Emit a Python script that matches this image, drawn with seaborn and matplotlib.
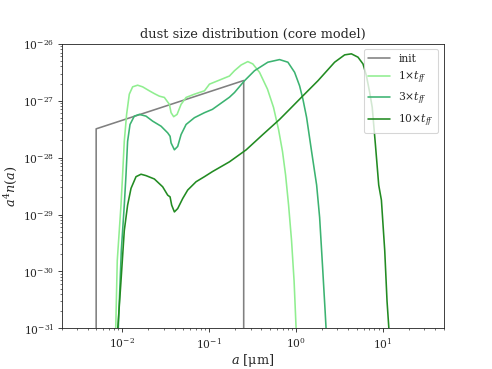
import pandas as pd
import seaborn as sns
import matplotlib
matplotlib.use("Agg")
import matplotlib.pyplot as plt

# grain radius [um] and a^4 n(a)
init_a = [0.005, 0.005, 0.25, 0.25]
init_y = [1e-35, 3.2e-28, 2.26e-27, 1e-35]

t1_a = [0.0083, 0.0084, 0.00875, 0.00966, 0.01008, 0.01054, 0.01121, 0.01204, 0.01315, 0.01501,
        0.01714, 0.02048, 0.02339, 0.02672, 0.0305, 0.03484, 0.03645, 0.03906, 0.04274, 0.04754,
        0.05429, 0.06767, 0.0883, 0.1008, 0.1714, 0.1958, 0.2338, 0.2787, 0.3184, 0.3802,
        0.470, 0.551, 0.630, 0.700, 0.759, 0.822, 0.889, 0.951, 1.003, 1.03]
t1_y = [5e-32, 1e-31, 1.55e-30, 1.46e-29, 4.95e-29, 1.93e-28, 5.74e-28, 1.30e-27, 1.75e-27, 1.87e-27,
        1.75e-27, 1.49e-27, 1.33e-27, 1.20e-27, 1.14e-27, 8.63e-28, 6.15e-28, 5.23e-28, 5.74e-28, 8.63e-28,
        1.14e-27, 1.30e-27, 1.49e-27, 1.95e-27, 2.71e-27, 3.36e-27, 4.24e-27, 4.86e-27, 4.42e-27, 3.15e-27,
        1.59e-27, 7.64e-28, 3.11e-28, 1.27e-28, 4.95e-29, 1.46e-29, 3.49e-30, 6.8e-31, 1e-31, 5e-32]

t3_a = [0.0088, 0.00899, 0.00974, 0.01054, 0.01103, 0.01151, 0.01227, 0.01375, 0.01571, 0.01876,
        0.02236, 0.02795, 0.03331, 0.0355, 0.03645, 0.03979, 0.04343, 0.04754, 0.05429, 0.06767,
        0.0883, 0.1091, 0.1714, 0.1958, 0.2553, 0.3331, 0.4742, 0.647, 0.807, 0.964,
        1.101, 1.202, 1.325, 1.514, 1.729, 1.872, 2.027, 2.166, 2.22, 2.25]
t3_y = [5e-32, 1e-31, 2.33e-30, 1.46e-29, 4.95e-29, 1.93e-28, 3.82e-28, 5.35e-28, 5.74e-28, 5.35e-28,
        4.37e-28, 3.56e-28, 2.72e-28, 2.37e-28, 1.81e-28, 1.37e-28, 1.57e-28, 2.54e-28, 3.82e-28, 5.02e-28,
        6.15e-28, 7.04e-28, 1.15e-27, 1.39e-27, 2.24e-27, 3.36e-27, 4.74e-27, 5.27e-27, 4.74e-27, 3.15e-27,
        1.82e-27, 1.06e-27, 5.08e-28, 1.27e-28, 3.29e-29, 8.9e-30, 1.16e-30, 2.0e-31, 1e-31, 5e-32]

t10_a = [0.0088, 0.00887, 0.00966, 0.01054, 0.01151, 0.0126, 0.01439, 0.01643, 0.01876, 0.02339,
         0.02916, 0.03331, 0.0355, 0.03704, 0.03979, 0.04343, 0.04962, 0.05664, 0.0708, 0.0883,
         0.1091, 0.1714, 0.2672, 0.415, 0.647, 0.844, 1.152, 1.791, 2.786, 3.636,
         4.345, 5.176, 5.912, 6.474, 7.06, 7.55, 8.216, 8.97, 9.63, 10.52,
         11.18, 11.8]
t10_y = [5e-32, 1e-31, 6.8e-31, 5.2e-30, 1.46e-29, 2.88e-29, 4.62e-29, 5.10e-29, 4.82e-29, 4.21e-29,
         3.07e-29, 2.19e-29, 2.04e-29, 1.46e-29, 1.11e-29, 1.27e-29, 1.91e-29, 2.69e-29, 3.77e-29, 4.62e-29,
         5.67e-29, 8.43e-29, 1.37e-28, 2.54e-28, 4.68e-28, 7.04e-28, 1.14e-27, 2.24e-27, 4.74e-27, 6.38e-27,
         6.65e-27, 5.81e-27, 4.42e-27, 2.74e-27, 1.39e-27, 7.64e-28, 1.69e-28, 3.29e-29, 1.79e-29, 2.32e-30,
         3.01e-31, 8.9e-32]

labels = ["init", r"$1{\times}t_{ff}$", r"$3{\times}t_{ff}$", r"$10{\times}t_{ff}$"]
colors = ["gray", "lightgreen", "mediumseagreen", "forestgreen"]

sns.set_style("ticks")
plt.rcParams['font.family'] = ['DejaVu Serif']
plt.rcParams['mathtext.fontset'] = 'dejavuserif'
plt.rcParams.update({'xtick.major.size': 3.5, 'ytick.major.size': 3.5,
                     'xtick.minor.size': 2, 'ytick.minor.size': 2,
                     'xtick.minor.visible': True, 'ytick.minor.visible': True})

fig, ax = plt.subplots(figsize=(6.4, 4.8), dpi=77)
for lab, col, a, y in zip(labels, colors, [init_a, t1_a, t3_a, t10_a], [init_y, t1_y, t3_y, t10_y]):
    df = pd.DataFrame({'a': a, 'y': y})
    sns.lineplot(data=df, x='a', y='y', sort=False, estimator=None, color=col, label=lab, lw=1.5, ax=ax)

ax.set_xscale('log')
ax.set_yscale('log')
ax.set_xlim(2e-3, 50)
ax.set_ylim(1e-31, 1e-26)
ax.set_title('dust size distribution (core model)')
ax.set_xlabel(r'$a$ [μm]', fontsize=12, labelpad=1)
ax.set_ylabel(r'$a^4n(a)$', fontsize=12)
ax.legend(loc='upper right')
plt.savefig('out.png')
